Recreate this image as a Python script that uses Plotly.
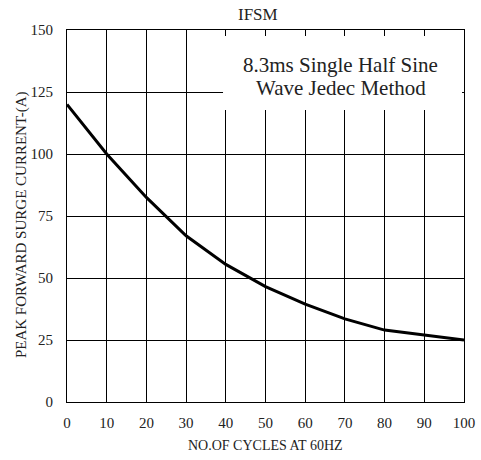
import plotly.graph_objects as go

cycles = [0, 10, 20, 30, 40, 50, 60, 70, 80, 90, 100]
current = [120, 100, 82.5, 67, 55.5, 46.5, 39.5, 33.5, 29, 27, 25]
x_ticks = [0, 10, 20, 30, 40, 50, 60, 70, 80, 90, 100]
y_ticks = [0, 25, 50, 75, 100, 125, 150]
title_text = "IFSM"
x_title = "NO.OF CYCLES AT 60HZ"
y_title = "PEAK FORWARD SURGE CURRENT-(A)"
note_lines = ["8.3ms Single Half Sine", "Wave Jedec Method"]

FONT = "Liberation Serif"

fig = go.Figure()
fig.add_trace(go.Scatter(x=cycles, y=current, mode="lines",
                         line=dict(color="black", width=3), showlegend=False))

axis_common = dict(showgrid=True, gridcolor="black", gridwidth=1,
                   showline=True, linecolor="black", linewidth=1, mirror=True,
                   zeroline=False, ticks="", automargin=False,
                   tickfont=dict(family=FONT, size=15, color="#222"))

fig.update_xaxes(range=[0, 100], tickvals=x_ticks, ticklabelstandoff=7, **axis_common)
fig.update_yaxes(range=[0, 150], tickvals=y_ticks, ticklabelstandoff=10, **axis_common)

fig.add_shape(type="rect", xref="x", yref="y", x0=39.3, x1=99.5, y0=117.7, y1=147.6,
              fillcolor="white", line=dict(width=0), layer="above")

ann = dict(showarrow=False, xanchor="center", yanchor="middle")
fig.add_annotation(x=69.0, y=135.9, xref="x", yref="y", text=note_lines[0],
                   font=dict(family=FONT, size=21, color="#222"), **ann)
fig.add_annotation(x=69.0, y=126.6, xref="x", yref="y", text=note_lines[1],
                   font=dict(family=FONT, size=21, color="#222"), **ann)

fig.add_annotation(x=0.481, y=1.043, xref="paper", yref="paper", text=title_text,
                   font=dict(family=FONT, size=17, color="#222"), **ann)
fig.add_annotation(x=0.5, y=-0.1156, xref="paper", yref="paper", text=x_title,
                   font=dict(family=FONT, size=14, color="#222"), **ann)
fig.add_annotation(x=-0.113, y=0.476, xref="paper", yref="paper", text=y_title,
                   textangle=-90, font=dict(family=FONT, size=15, color="#222"), **ann)

fig.update_layout(width=481, height=460, margin=dict(l=67, r=17, t=30, b=58),
                  plot_bgcolor="white", paper_bgcolor="white")

fig.write_html("out.html", config={"displayModeBar": False},
               post_script="document.body.style.margin='0';")
